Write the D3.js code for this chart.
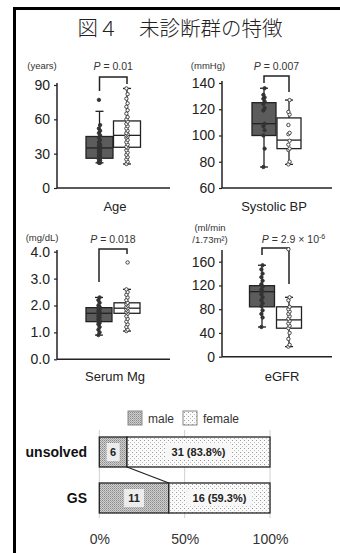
<!DOCTYPE html>
<html><head><meta charset="utf-8">
<script src="https://cdn.jsdelivr.net/npm/d3@7"></script>
<style>body{margin:0;background:#fff}svg{display:block}</style>
</head><body>
<svg id="c" width="340" height="553"></svg>
<script>
// ---------- DATA ----------
const title = "図４　未診断群の特徴";
const panelNames = ["Age", "Systolic BP", "Serum Mg", "eGFR"];
const panelUnits = [["(years)"], ["(mmHg)"], ["(mg/dL)"], ["(ml/min", "/1.73m²)"]];
const pValues = ["0.01", "0.007", "0.018", "2.9 × 10"];
const yTicks = [[0, 30, 60, 90], [60, 80, 100, 120, 140], [0, 1, 2, 3, 4], [0, 40, 80, 120, 160]];
// box stats: [whiskerLow, q1, median, q3, whiskerHigh] for dark (group A) and white (group B)
const boxA = [[22, 26, 35, 45, 67], [76, 100, 109, 125, 136], [0.9, 1.4, 1.71, 1.92, 2.3], [50, 84, 109.5, 119.6, 154]];
const boxB = [[21, 35.6, 46, 58.6, 87], [78, 90, 96.5, 113.4, 127], [1.05, 1.71, 1.9, 2.1, 2.6], [17, 48, 62, 84, 100]];
// individual points
const dotsA = [
  [22, 22, 23, 24, 25, 26, 27, 28, 29, 30, 31, 32, 33, 34, 35, 36, 37, 38, 40, 42, 44, 46, 48, 50, 52, 55, 77],
  [76, 90, 100, 104, 107, 109, 119, 121, 124, 126, 128, 129, 131, 136],
  [0.9, 1.0, 1.1, 1.2, 1.3, 1.35, 1.4, 1.45, 1.5, 1.55, 1.6, 1.65, 1.7, 1.75, 1.8, 1.85, 1.9, 1.95, 2.0, 2.1, 2.2, 2.3],
  [50, 66, 72, 78, 85, 90, 95, 100, 105, 110, 113, 118, 122, 128, 134, 140, 147, 154]
];
const dotsB = [
  [21, 23, 25, 27, 29, 31, 33, 35, 36, 38, 40, 42, 44, 45, 46, 47, 48, 50, 52, 54, 56, 58, 60, 62, 65, 68, 71, 74, 78, 82, 87],
  [78, 80, 89, 90, 93, 96, 101, 102, 108, 116, 118, 127],
  [1.05, 1.1, 1.2, 1.3, 1.4, 1.5, 1.6, 1.7, 1.75, 1.8, 1.85, 1.9, 1.95, 2.0, 2.05, 2.1, 2.2, 2.3, 2.4, 2.5, 2.6, 3.6],
  [17, 20, 30, 40, 48, 52, 56, 60, 64, 68, 72, 76, 80, 84, 95, 100, 181]
];
// sex distribution
const groups = ["unsolved", "GS"];
const maleCounts = [6, 11];
const femaleCounts = [31, 16];
const femaleLabels = ["31 (83.8%)", "16 (59.3%)"];
const legendLabels = ["male", "female"];
const pctTicks = [0, 50, 100];

// ---------- LAYOUT ----------
const svg = d3.select("#c");
const FONT = "Liberation Sans, Arial, sans-serif";
const defs = svg.append("defs");
const hatch = defs.append("pattern").attr("id", "hatch").attr("patternUnits", "userSpaceOnUse")
  .attr("width", 2).attr("height", 2);
hatch.append("rect").attr("width", 2).attr("height", 2).attr("fill", "#cfcfcf");
hatch.append("rect").attr("x", 0).attr("y", 0).attr("width", 1).attr("height", 1).attr("fill", "#8a8a8a");
hatch.append("rect").attr("x", 1).attr("y", 1).attr("width", 1).attr("height", 1).attr("fill", "#a8a8a8");
const dotsP = defs.append("pattern").attr("id", "dots").attr("patternUnits", "userSpaceOnUse")
  .attr("width", 4).attr("height", 4);
dotsP.append("rect").attr("width", 4).attr("height", 4).attr("fill", "#fafafa");
dotsP.append("rect").attr("x", 0).attr("y", 0).attr("width", 1).attr("height", 1).attr("fill", "#9a9a9a");
dotsP.append("rect").attr("x", 2).attr("y", 2).attr("width", 1).attr("height", 1).attr("fill", "#c0c0c0");

// frame
svg.append("path").attr("d", "M14.5,553 L14.5,8.5 L340,8.5").attr("fill", "none")
  .attr("stroke", "#000").attr("stroke-width", 3);

// title
svg.append("text").attr("x", 180).attr("y", 36).attr("text-anchor", "middle")
  .attr("font-family", "Noto Sans CJK JP, sans-serif").attr("font-weight", 300).attr("font-size", 20.5).attr("fill", "#222")
  .text(title);

const layouts = [
  {ax: 57, xEnd: 170, dom: [0, 90], rng: [188, 85], top: 83, cA: 99.5, cB: 127, w: 27, unitX: 42, unitY: [69], pY: 70, brY: 77, legA: 91, legB: 84, lab: 115, labY: 211, fmt: d3.format("d")},
  {ax: 222, xEnd: 332, dom: [60, 140], rng: [188, 83], top: 81, cA: 264, cB: 289, w: 24, unitX: 208, unitY: [69], pY: 70, brY: 76, legA: 83, legB: 92, lab: 274, labY: 211, fmt: d3.format("d")},
  {ax: 57, xEnd: 170, dom: [0, 4], rng: [359.3, 251.7], top: 250, cA: 99, cB: 127, w: 26, unitX: 42, unitY: [241], pY: 243, brY: 249, legA: 282, legB: 254, lab: 115, labY: 381, fmt: d3.format(".1f")},
  {ax: 222, xEnd: 332, dom: [0, 160], rng: [356.7, 261.7], top: 250, cA: 262, cB: 289, w: 25, unitX: 210, unitY: [231, 243], pY: 243, brY: 248, legA: 255, legB: 284, lab: 282, labY: 381, fmt: d3.format("d")}
];

layouts.forEach((L, i) => {
  const g = svg.append("g");
  const y = d3.scaleLinear().domain(L.dom).range(L.rng);
  const axis = g.append("g").attr("transform", `translate(${L.ax},0)`)
    .call(d3.axisLeft(y).tickValues(yTicks[i]).tickSize(3).tickPadding(4).tickFormat(L.fmt));
  axis.select(".domain").remove();
  axis.selectAll(".tick line").attr("stroke", "#222").attr("stroke-width", 1.2);
  axis.selectAll("text").attr("font-family", FONT).attr("font-size", 14).attr("fill", "#222");
  g.append("line").attr("x1", L.ax).attr("x2", L.ax).attr("y1", L.top).attr("y2", L.rng[0])
    .attr("stroke", "#222").attr("stroke-width", 1.5);
  g.append("line").attr("x1", L.ax).attr("x2", L.xEnd).attr("y1", L.rng[0]).attr("y2", L.rng[0])
    .attr("stroke", "#222").attr("stroke-width", 1.5);
  panelUnits[i].forEach((u, k) => {
    g.append("text").attr("x", L.unitX).attr("y", L.unitY[k]).attr("text-anchor", "middle")
      .attr("font-family", FONT).attr("font-size", 9.5).attr("fill", "#333").text(u);
  });
  const pt = g.append("text").attr("x", (L.cA + L.cB) / 2 + (i === 3 ? 18 : 0)).attr("y", L.pY)
    .attr("text-anchor", "middle").attr("font-family", FONT).attr("font-size", 10.5).attr("fill", "#333");
  pt.append("tspan").attr("font-style", "italic").text("P");
  pt.append("tspan").text(" = " + pValues[i]);
  if (i === 3) pt.append("tspan").attr("dy", -4).attr("font-size", 7).text("-6");
  g.append("path").attr("d", `M${L.cA},${L.legA} L${L.cA},${L.brY} L${L.cB},${L.brY} L${L.cB},${L.legB}`)
    .attr("fill", "none").attr("stroke", "#222").attr("stroke-width", 1.5);
  [[boxA[i], dotsA[i], L.cA, "#5c5c5c", "#333"], [boxB[i], dotsB[i], L.cB, "#fff", "#555"]].forEach(([b, d, cx, fill, dotFill]) => {
    const bg = g.append("g");
    bg.append("line").attr("x1", cx).attr("x2", cx).attr("y1", y(b[0])).attr("y2", y(b[4]))
      .attr("stroke", "#222").attr("stroke-width", 1.3);
    [b[0], b[4]].forEach(v => bg.append("line").attr("x1", cx - 4).attr("x2", cx + 4)
      .attr("y1", y(v)).attr("y2", y(v)).attr("stroke", "#222").attr("stroke-width", 1.3));
    bg.append("rect").attr("x", cx - L.w / 2).attr("width", L.w).attr("y", y(b[3]))
      .attr("height", y(b[1]) - y(b[3])).attr("fill", fill).attr("stroke", "#222").attr("stroke-width", 1.3);
    bg.append("line").attr("x1", cx - L.w / 2).attr("x2", cx + L.w / 2).attr("y1", y(b[2])).attr("y2", y(b[2]))
      .attr("stroke", "#222").attr("stroke-width", 1.3);
    bg.selectAll("circle").data(d).join("circle")
      .attr("cx", (v, k) => cx + (k % 2 ? 0.6 : -0.6)).attr("cy", v => y(v)).attr("r", 1.7)
      .attr("fill", fill === "#fff" ? "#fff" : dotFill).attr("stroke", "#333").attr("stroke-width", 0.9);
  });
  g.append("text").attr("x", L.lab).attr("y", L.labY).attr("text-anchor", "middle")
    .attr("font-family", FONT).attr("font-size", 13).attr("fill", "#222").text(panelNames[i]);
});

// ---------- STACKED BAR ----------
const xP = d3.scaleLinear().domain([0, 100]).range([99.3, 270]);
const yB = d3.scaleBand().domain(groups).range([437, 513]).paddingInner(16 / 46).paddingOuter(0);
const bar = svg.append("g");
pctTicks.forEach(t => {
  bar.append("line").attr("x1", xP(t)).attr("x2", xP(t)).attr("y1", 430).attr("y2", 518)
    .attr("stroke", "#d0d0d0").attr("stroke-width", 1);
});
const xAx = bar.append("g").attr("transform", "translate(0,530)")
  .call(d3.axisBottom(xP).tickValues(pctTicks).tickSize(0).tickPadding(4).tickFormat(d => d + "%"));
xAx.select(".domain").remove();
xAx.selectAll("text").attr("font-family", FONT).attr("font-size", 14).attr("fill", "#333");

groups.forEach((gname, i) => {
  const tot = maleCounts[i] + femaleCounts[i];
  const mp = maleCounts[i] / tot * 100;
  const y0 = yB(gname), h = yB.bandwidth();
  bar.append("rect").attr("x", xP(0)).attr("y", y0).attr("width", xP(mp) - xP(0)).attr("height", h)
    .attr("fill", "url(#hatch)").attr("stroke", "#222").attr("stroke-width", 1.3);
  bar.append("rect").attr("x", xP(mp)).attr("y", y0).attr("width", xP(100) - xP(mp)).attr("height", h)
    .attr("fill", "url(#dots)").attr("stroke", "#222").attr("stroke-width", 1.3);
  const mx = (xP(0) + xP(mp)) / 2, my = y0 + h / 2;
  const mw = String(maleCounts[i]).length * 7 + 6;
  bar.append("rect").attr("x", mx - mw / 2).attr("y", my - 9).attr("width", mw).attr("height", 18).attr("fill", "#ececec");
  bar.append("text").attr("x", mx).attr("y", my + 4).attr("text-anchor", "middle")
    .attr("font-family", FONT).attr("font-weight", "bold").attr("font-size", 11).attr("fill", "#222")
    .text(maleCounts[i]);
  const fx = (xP(mp) + xP(100)) / 2;
  bar.append("rect").attr("x", fx - 33).attr("y", my - 8).attr("width", 66).attr("height", 16).attr("fill", "#f7f7f7");
  bar.append("text").attr("x", fx).attr("y", my + 4).attr("text-anchor", "middle")
    .attr("font-family", FONT).attr("font-weight", "bold").attr("font-size", 11).attr("fill", "#222")
    .text(femaleLabels[i]);
  bar.append("text").attr("x", 87).attr("y", my + 5).attr("text-anchor", "end")
    .attr("font-family", FONT).attr("font-weight", "bold").attr("font-size", 14).attr("fill", "#111").text(gname);
});
const mp0 = maleCounts[0] / (maleCounts[0] + femaleCounts[0]) * 100;
const mp1 = maleCounts[1] / (maleCounts[1] + femaleCounts[1]) * 100;
bar.append("line").attr("x1", xP(mp0)).attr("y1", yB(groups[0]) + yB.bandwidth())
  .attr("x2", xP(mp1)).attr("y2", yB(groups[1])).attr("stroke", "#222").attr("stroke-width", 1.3);

const legX = [128, 183];
legendLabels.forEach((l, k) => {
  bar.append("rect").attr("x", legX[k]).attr("y", 411).attr("width", 14).attr("height", 14)
    .attr("fill", k ? "url(#dots)" : "url(#hatch)").attr("stroke", "#888").attr("stroke-width", 1);
  bar.append("text").attr("x", legX[k] + 20).attr("y", 422.5).attr("font-family", FONT)
    .attr("font-size", 12).attr("fill", "#333").text(l);
});
</script>
</body></html>
